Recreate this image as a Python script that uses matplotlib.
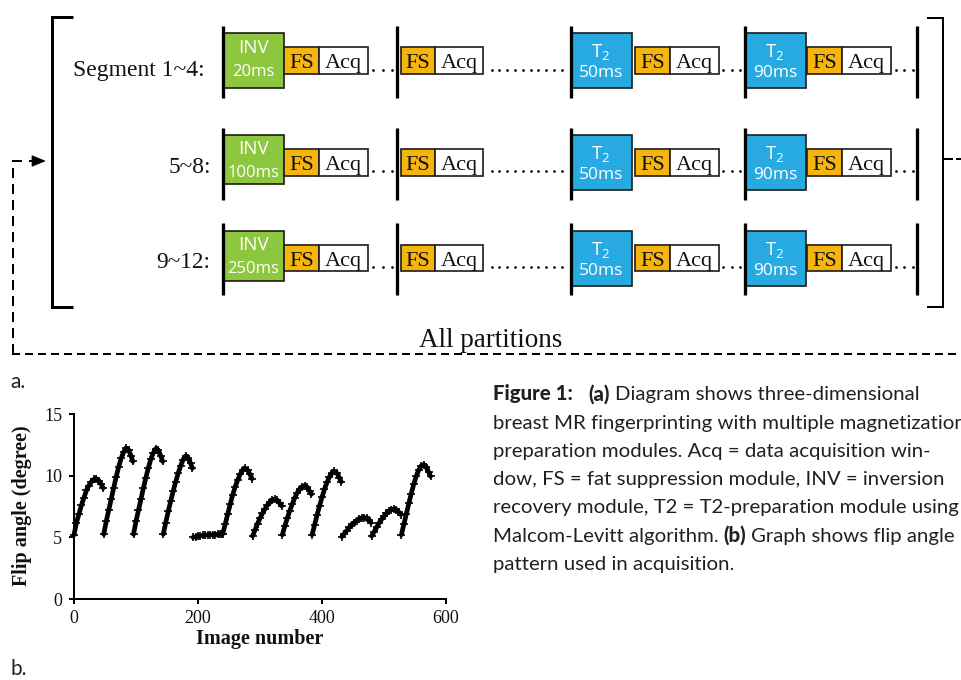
import numpy as np
import matplotlib
matplotlib.use("Agg")
import matplotlib.pyplot as plt
from matplotlib.patches import Rectangle, Polygon

# ---------------- data: flip angle pattern (panel b) ----------------
segment_start = [0, 48, 96, 144, 192, 240, 288, 336, 384, 432, 480, 528]
offsets = [0, 4, 8, 12, 16, 20, 24, 28, 32, 36, 40, 44, 47]
seg01 = [5.2, 6.2, 6.9, 7.6, 8.2, 8.8, 9.2, 9.5, 9.7, 9.75, 9.6, 9.3, 9.0]
seg02 = [5.25, 6.3, 7.2, 8.1, 9.0, 9.9, 10.7, 11.4, 11.9, 12.25, 12.1, 11.6, 11.15]
seg03 = [5.25, 6.3, 7.2, 8.1, 9.0, 9.85, 10.65, 11.35, 11.85, 12.2, 12.05, 11.6, 11.15]
seg04 = [5.25, 6.2, 7.1, 7.95, 8.75, 9.5, 10.2, 10.8, 11.3, 11.6, 11.45, 11.0, 10.6]
seg05 = [5.0, 5.05, 5.1, 5.12, 5.15, 5.17, 5.2, 5.2, 5.22, 5.22, 5.24, 5.25, 5.25]
seg06 = [5.3, 6.1, 6.9, 7.7, 8.45, 9.1, 9.65, 10.1, 10.45, 10.6, 10.45, 10.1, 9.75]
seg07 = [5.1, 5.6, 6.1, 6.55, 6.95, 7.3, 7.6, 7.85, 8.05, 8.1, 8.0, 7.75, 7.55]
seg08 = [5.2, 5.9, 6.55, 7.15, 7.7, 8.2, 8.6, 8.9, 9.1, 9.2, 9.05, 8.75, 8.5]
seg09 = [5.2, 6.0, 6.8, 7.55, 8.25, 8.9, 9.45, 9.9, 10.2, 10.35, 10.2, 9.85, 9.5]
seg10 = [5.05, 5.3, 5.55, 5.8, 6.0, 6.2, 6.35, 6.5, 6.58, 6.6, 6.55, 6.4, 6.2]
seg11 = [5.1, 5.45, 5.8, 6.15, 6.45, 6.7, 6.95, 7.15, 7.25, 7.3, 7.25, 7.05, 6.85]
seg12 = [5.2, 6.05, 6.9, 7.75, 8.55, 9.3, 9.95, 10.45, 10.8, 10.9, 10.7, 10.3, 9.95]
segments = [seg01, seg02, seg03, seg04, seg05, seg06,
            seg07, seg08, seg09, seg10, seg11, seg12]
x_ticks = [0, 200, 400, 600]
y_ticks = [0, 5, 10, 15]

# ---------------- diagram text (panel a) ----------------
row_labels = ["Segment 1~4:", "5~8:", "9~12:"]
inv_times = ["20ms", "100ms", "250ms"]
t2_times = ["50ms", "90ms"]

# caption: each line is a list of (text, bold?, spaces after)
caption = [
    [("Figure 1:", True, 3), ("(a)", True, 1),
     ("Diagram shows three-dimensional", False, 0)],
    [("breast MR fingerprinting with multiple magnetization", False, 0)],
    [("preparation modules. Acq = data acquisition win-", False, 0)],
    [("dow, FS = fat suppression module, INV = inversion", False, 0)],
    [("recovery module, T2 = T2-preparation module using", False, 0)],
    [("Malcom-Levitt algorithm.", False, 1), ("(b)", True, 1),
     ("Graph shows flip angle", False, 0)],
    [("pattern used in acquisition.", False, 0)],
]

SERIF = "Liberation Serif"
SANS_BOX = "Open Sans"
SANS_CAP = "Lato"
GREEN = "#8DC63F"
BLUE = "#27AAE2"
ORANGE = "#F6B40F"
EDGE = "#231F20"
PX = 0.72  # points per pixel at 100 dpi

fig = plt.figure(figsize=(9.61, 6.8), dpi=100)
ax0 = fig.add_axes([0, 0, 1, 1])
ax0.set_xlim(0, 961)
ax0.set_ylim(680, 0)
ax0.axis("off")
renderer = fig.canvas.get_renderer()


def text_width(s, **kw):
    t = ax0.text(0, 0, s, **kw)
    w = t.get_window_extent(renderer).width
    t.remove()
    return w


def fit_text(x, y, s, target_w, **kw):
    t = ax0.text(x, y, s, **kw)
    w = t.get_window_extent(renderer).width
    t.set_fontsize(t.get_fontsize() * target_w / w)
    return t


def box(x0, x1, y0, h, fc):
    ax0.add_patch(Rectangle((x0, y0), x1 - x0, h, fc=fc, ec=EDGE,
                            lw=1.7 * PX, zorder=2))


def vbar(x, y0, y1):
    ax0.plot([x, x], [y0, y1], color="black", lw=3.3 * PX,
             solid_capstyle="butt", zorder=3)


def dots(xs, y):
    ax0.plot(xs, [y] * len(xs), "o", color="black", ms=2.7 * PX, mew=0, zorder=3)


row_top = [33.3, 135.0, 230.7]
inv_h = [54.4, 49.0, 50.0]
big_h = 54.8
label_right = [205.0, 210.7, 210.7]
label_base = [76.0, 173.3, 268.3]
label_w = [132.0, 42.3, 54.0]

for r in range(3):
    t = row_top[r]
    fs_t = t + 14.0
    fs_h = 26.7
    fs_b = fs_t + fs_h
    base = fs_b - 5.7
    dy = fs_b - 4.5
    b0, b1 = t - 7.3, t + 64.5

    fit_text(label_right[r], label_base[r], row_labels[r], label_w[r],
             ha="right", va="baseline", family=SERIF, fontsize=17, color="#111111")

    def fs_acq(xa, xb, xc):
        box(xa, xb, fs_t, fs_h, ORANGE)
        box(xb, xc, fs_t, fs_h, "white")
        ax0.text((xa + xb) / 2, base, "FS", ha="center", va="baseline",
                 family=SERIF, fontsize=16, color="#111111", zorder=4)
        ax0.text((xb + xc) / 2, base, "Acq", ha="center", va="baseline",
                 family=SERIF, fontsize=16, color="#111111", zorder=4)

    # INV module
    box(222.7, 283.7, t, inv_h[r], GREEN)
    ax0.text(253.4, t + 14.5, "INV", ha="center", va="center",
             family=SANS_BOX, fontsize=13.5, color="white", zorder=4)
    ax0.text(253.4, t + 38.4, inv_times[r], ha="center", va="center",
             family=SANS_BOX, fontsize=12, color="white", zorder=4)
    vbar(222.7, b0, b1)
    fs_acq(283.7, 319.0, 367.7)
    dots([373.3, 382.5, 391.7], dy)

    vbar(396.7, b0, b1)
    fs_acq(401.0, 435.0, 482.7)
    dots(np.linspace(491.7, 561.7, 10), dy)

    # T2 modules
    for (xa, xb, fa, fb, fc, xd, bar), tt in zip(
            [(570.7, 631.7, 635.0, 670.0, 719.0, [723.3, 731.7, 740.0], 570.7),
             (745.0, 805.7, 807.3, 841.7, 891.0, [896.0, 904.3, 912.7], 745.0)],
            t2_times):
        box(xa, xb, t, big_h, BLUE)
        ax0.text((xa + xb) / 2 - 1, t + 19.0, r"$\mathregular{T_2}$", ha="center",
                 va="center", family=SANS_BOX, fontsize=13.5, color="white", zorder=4)
        ax0.text((xa + xb) / 2, t + 40.0, tt, ha="center", va="center",
                 family=SANS_BOX, fontsize=12.5, color="white", zorder=4)
        vbar(bar, b0, b1)
        fs_acq(fa, fb, fc)
        dots(xd, dy)
    vbar(916.7, b0, b1)

# brackets
ax0.plot([73, 52.3, 52.3, 73], [17.3, 17.3, 306.7, 306.7], color="black",
         lw=3.0 * PX, solid_joinstyle="miter", solid_capstyle="butt")
ax0.plot([926.7, 943.3, 943.3, 926.7], [18.3, 18.3, 306.7, 306.7], color="black",
         lw=2.0 * PX, solid_joinstyle="miter", solid_capstyle="butt")
ax0.plot([943.3, 953], [159, 159], color="black", lw=2.0 * PX, solid_capstyle="butt")
ax0.plot([956, 961], [159, 159], color="black", lw=2.0 * PX, solid_capstyle="butt")

# dashed loop
ax0.plot([12, 961], [354, 354], color="black", lw=2.0 * PX, dashes=(4.0, 2.5))
ax0.plot([13.3, 13.3], [354, 161], color="black", lw=2.0 * PX, dashes=(5.0, 3.0))
ax0.plot([12.3, 22], [161, 161], color="black", lw=2.0 * PX, solid_capstyle="butt")
ax0.plot([29, 34], [161, 161], color="black", lw=2.0 * PX, solid_capstyle="butt")
ax0.add_patch(Polygon([(32, 155.7), (45, 161), (32, 166.3)], closed=True,
                      fc="black", ec="black", lw=0.5))

fit_text(491, 347, "All partitions", 143, ha="center", va="baseline",
         family=SERIF, fontsize=18, color="#111111")

ax0.text(10, 388, "a.", ha="left", va="baseline", family=SANS_CAP, fontsize=15,
         color="#222222")
ax0.text(10, 675, "b.", ha="left", va="baseline", family=SANS_CAP, fontsize=15,
         color="#222222")

# caption (runs of regular / bold text)
cap_size = 14 * 242.0 / text_width("pattern used in acquisition.",
                                   family=SANS_CAP, fontsize=14)
space_w = (text_width("x x", family=SANS_CAP, fontsize=cap_size)
           - text_width("xx", family=SANS_CAP, fontsize=cap_size))
for i, line in enumerate(caption):
    x = 492.7
    y = 400.2 + i * 28.3
    for s, bold, nsp in line:
        t = ax0.text(x, y, s, ha="left", va="baseline", family=SANS_CAP,
                     fontsize=cap_size, fontweight="black" if bold else "normal",
                     color="#231F20")
        x += t.get_window_extent(renderer).width + nsp * space_w

# ---------------- chart (panel b) ----------------
ax = fig.add_axes([74 / 961, (680 - 599) / 680, 372 / 961, 185 / 680])
ax.set_facecolor("none")
for start, vals in zip(segment_start, segments):
    xs = [start + o for o in offsets]
    ax.plot(xs, vals, color="black", lw=3.4, marker="+", ms=5.5, mew=1.2,
            solid_capstyle="round", clip_on=False)
ax.set_xlim(0, 600)
ax.set_ylim(0, 15)
ax.set_xticks(x_ticks)
ax.set_yticks(y_ticks)
for s in ["top", "right"]:
    ax.spines[s].set_visible(False)
for s in ["left", "bottom"]:
    ax.spines[s].set_linewidth(2.0 * PX)
ax.tick_params(direction="out", length=5 * PX, width=2.0 * PX, labelsize=13)
ax.tick_params(axis="x", pad=4.5)
ax.tick_params(axis="y", pad=5)
for lab in ax.get_xticklabels() + ax.get_yticklabels():
    lab.set_family(SERIF)
    lab.set_color("#111111")

ax0.text(260, 638.7, "Image number", ha="center", va="center", family=SERIF,
         fontweight="bold", fontsize=14.5, color="#111111")
ax0.text(21.7, 506, "Flip angle (degree)", ha="center", va="center", rotation=90,
         family=SERIF, fontweight="bold", fontsize=14.5, color="#111111")

fig.savefig("out.png", dpi=100)
